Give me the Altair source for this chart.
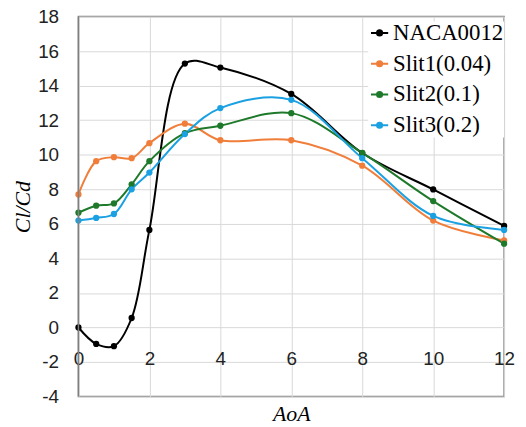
import altair as alt
import pandas as pd

aoa = [0, 0.5, 1, 1.5, 2, 3, 4, 6, 8, 10, 12]
naca = [0.0, -0.95, -1.08, 0.55, 5.65, 15.28, 15.05, 13.52, 10.1, 7.99, 5.88]
slit1 = [7.70, 9.63, 9.86, 9.80, 10.67, 11.80, 10.84, 10.84, 9.37, 6.19, 5.04]
slit2 = [6.65, 7.05, 7.18, 8.29, 9.63, 11.25, 11.68, 12.41, 10.11, 7.32, 4.85]
slit3 = [6.19, 6.34, 6.57, 8.00, 8.97, 11.20, 12.70, 13.18, 9.80, 6.46, 5.65]

series_names = ["NACA0012", "Slit1(0.04)", "Slit2(0.1)", "Slit3(0.2)"]
series_vals = [naca, slit1, slit2, slit3]
colors = ["#000000", "#F07E3A", "#1E7A2A", "#1BA1E2"]
x_ticks = [0, 2, 4, 6, 8, 10, 12]
y_ticks = [-4, -2, 0, 2, 4, 6, 8, 10, 12, 14, 16, 18]

SERIF = "'Liberation Serif', 'Times New Roman', Times, serif"
SANS = "'Liberation Sans', Arial, sans-serif"

rows = []
for name, vals in zip(series_names, series_vals):
    for a, v in zip(aoa, vals):
        rows.append({"AoA": a, "val": v, "series": name})
df = pd.DataFrame(rows)

color = alt.Color(
    "series:N",
    scale=alt.Scale(domain=series_names, range=colors),
    legend=alt.Legend(
        title=None,
        orient="none",
        legendX=292,
        legendY=5,
        labelFont=SERIF,
        labelFontSize=23,
        labelColor="#000000",
        symbolType="M-1,0L1,0M-0.3,0A0.3,0.3 0 1,0 0.3,0A0.3,0.3 0 1,0 -0.3,0Z",
        symbolSize=300,
        symbolStrokeWidth=2,
        rowPadding=7,
        labelOffset=2,
        fillColor="white",
    ),
)

x = alt.X(
    "AoA:Q",
    scale=alt.Scale(domain=[0, 12], nice=False),
    axis=alt.Axis(
        values=x_ticks,
        title="AoA",
        titleFont=SERIF,
        titleFontStyle="italic",
        titleFontWeight="normal",
        titleFontSize=22,
        titleColor="#000000",
        titlePadding=7,
        labelFont=SANS,
        labelFontSize=19,
        labelColor="#222222",
        labelPadding=-47,
        labelOverlap=False,
        ticks=False,
        domain=False,
        gridColor="#D9D9D9",
        labelFlush=False,
    ),
)
y = alt.Y(
    "val:Q",
    scale=alt.Scale(domain=[-4, 18], nice=False),
    axis=alt.Axis(
        values=y_ticks,
        title="Cl/Cd",
        titleFont=SERIF,
        titleFontStyle="italic",
        titleFontWeight="normal",
        titleFontSize=22,
        titleColor="#000000",
        titlePadding=3,
        labelFont=SANS,
        labelFontSize=19,
        labelColor="#222222",
        labelPadding=20,
        labelOverlap=False,
        labelBound=False,
        labelExpr="toString(datum.value)",
        ticks=False,
        domain=False,
        gridColor="#D9D9D9",
    ),
)

base = alt.Chart(df).encode(x=x, y=y, color=color)
lines = base.mark_line(interpolate="catmull-rom", strokeWidth=2)
pts = base.mark_point(filled=True, size=40, opacity=1)
yaxis_line = alt.Chart(pd.DataFrame({"AoA": [0]})).mark_rule(color="#808080", strokeWidth=1.5).encode(
    x=alt.X("AoA:Q")
)

chart = (
    alt.layer(lines, pts, yaxis_line)
    .properties(
        width=429,
        height=383,
        padding={"left": 71, "top": 7, "right": 14, "bottom": 28},
        autosize="none",
    )
    .configure_view(stroke="#808080", strokeWidth=1.5)
)

chart.save("out.html", embed_options={"renderer": "svg", "actions": False})
